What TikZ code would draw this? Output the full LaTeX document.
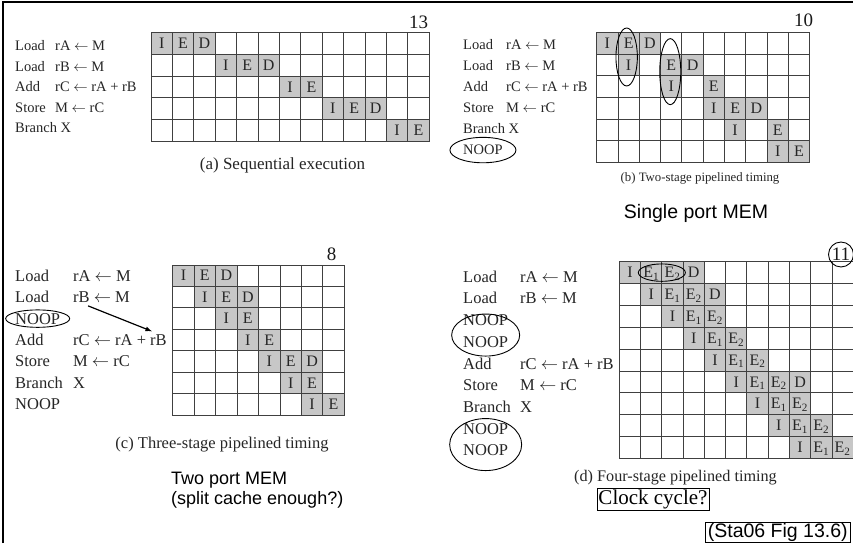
\documentclass[tikz,border=0pt]{standalone}
\usepackage{fontspec}
\setmainfont{Liberation Serif}
\newfontfamily\slidesans{Liberation Sans}
\usepackage{tikz}
\usetikzlibrary{positioning}
\usetikzlibrary{calc,arrows}
\tikzstyle{busy} = [fill=black!22]
\tikzstyle{rule} = [draw=black!75, line width=0.9pt, line cap=rect]
\tikzstyle{stage} = [inner sep=0pt, text height=10.5pt, text depth=0pt, text=black!85, font=\fontsize{16}{16}\selectfont]
\tikzstyle{opsm} = [anchor=base west, inner sep=0pt, text=black!85, font=\fontsize{14.5}{16}\selectfont]
\tikzstyle{oplg} = [anchor=base west, inner sep=0pt, text=black!85, font=\fontsize{16.5}{18}\selectfont]
\tikzstyle{total} = [inner sep=0pt, text=black!90, font=\fontsize{19}{19}\selectfont]
\tikzstyle{caption} = [inner sep=0pt, text=black!85]
\tikzstyle{ring} = [draw=black, line width=0.9pt]
\tikzstyle{slide} = [inner sep=0pt, font=\slidesans\fontsize{18}{20}\selectfont]

\begin{document}
\begin{tikzpicture}[x=1pt, y=-1pt]
    \useasboundingbox (0,0) rectangle (853,543);
    \fill[white] (0,0) rectangle (853,543);
    \draw[line width=1.2pt] (3,543) -- (3,2) -- (853,2);

    % (a) sequential execution
    \foreach \op/\arg [count=\r from 0] in {Load/rA $\leftarrow$ M, Load/rB $\leftarrow$ M, Add/rC $\leftarrow$ rA + rB, Store/M $\leftarrow$ rC, Branch X/{}} {
        \node[opsm] (a-op\r) at (15, {50.5+20.6*\r}) {\op};
        \node[opsm] (a-arg\r) at (55, {50.5+20.6*\r}) {\arg};
    }
    \begin{scope}[shift={(151pt,-32.7pt)}, x=21.4pt, y=-21.7pt]
        \foreach \c/\r/\s in {0/0/I, 1/0/E, 2/0/D, 3/1/I, 4/1/E, 5/1/D, 6/2/I, 7/2/E, 8/3/I, 9/3/E, 10/3/D, 11/4/I, 12/4/E} {
            \fill[busy] (\c,\r) rectangle ++(1,1);
            \node[stage] (a-\c-\r) at (\c+.5,\r+.5) {\s};
        }
        \foreach \c in {0,...,13} \draw[rule] (\c,0) -- (\c,5);
        \foreach \r in {0,...,5} \draw[rule] (0,\r) -- (13,\r);
    \end{scope}
    \node[total] (a-total) at (418.7,22.5) {13};
    \node[caption, font=\fontsize{17}{17}\selectfont] (a-cap) at (282.5,165) {(a) Sequential execution};

    % (b) two-stage
    \foreach \op/\arg [count=\r from 0] in {Load/rA $\leftarrow$ M, Load/rB $\leftarrow$ M, Add/rC $\leftarrow$ rA + rB, Store/M $\leftarrow$ rC, Branch X/{}, NOOP/{}} {
        \node[opsm] (b-op\r) at (463, {49.8+21*\r}) {\op};
        \node[opsm] (b-arg\r) at (506, {49.8+21*\r}) {\arg};
    }
    \begin{scope}[shift={(596.7pt,-32.3pt)}, x=21.3pt, y=-21.67pt]
        \foreach \c/\r/\s in {0/0/I, 1/0/E, 2/0/D, 1/1/I, 3/1/E, 4/1/D, 3/2/I, 5/2/E, 5/3/I, 6/3/E, 7/3/D, 6/4/I, 8/4/E, 8/5/I, 9/5/E} {
            \fill[busy] (\c,\r) rectangle ++(1,1);
            \node[stage] (b-\c-\r) at (\c+.5,\r+.5) {\s};
        }
        \foreach \c in {0,...,10} \draw[rule] (\c,0) -- (\c,6);
        \foreach \r in {0,...,6} \draw[rule] (0,\r) -- (10,\r);
    \end{scope}
    \draw[ring] ($(b-1-0)!.5!(b-1-1)+(-2,3)$) ellipse [x radius=10.7pt, y radius=29pt];
    \draw[ring] ($(b-3-1)!.5!(b-3-2)+(-1,-4)$) ellipse [x radius=10.5pt, y radius=33pt];
    \draw[ring] (b-op5) ellipse [x radius=33pt, y radius=12.7pt];
    \node[total] (b-total) at (803.5,20) {10};
    \node[caption, font=\fontsize{12.8}{13}\selectfont] (b-cap) at (700,178) {(b) Two-stage pipelined timing};
    \node[slide, font=\slidesans\fontsize{19.5}{20}\selectfont] (b-mem) at (696,213) {Single port MEM};

    % (c) three-stage
    \foreach \op/\arg [count=\r from 0] in {Load/rA $\leftarrow$ M, Load/rB $\leftarrow$ M, NOOP/{}, Add/rC $\leftarrow$ rA + rB, Store/M $\leftarrow$ rC, Branch/X, NOOP/{}} {
        \node[oplg] (c-op\r) at (15, {281.2+21.4*\r}) {\op};
        \node[oplg] (c-arg\r) at (73, {281.2+21.4*\r}) {\arg};
    }
    \begin{scope}[shift={(172.7pt,-265pt)}, x=21.45pt, y=-21.47pt]
        \foreach \c/\r/\s in {0/0/I, 1/0/E, 2/0/D, 1/1/I, 2/1/E, 3/1/D, 2/2/I, 3/2/E, 3/3/I, 4/3/E, 4/4/I, 5/4/E, 6/4/D, 5/5/I, 6/5/E, 6/6/I, 7/6/E} {
            \fill[busy] (\c,\r) rectangle ++(1,1);
            \node[stage] (c-\c-\r) at (\c+.5,\r+.5) {\s};
        }
        \foreach \c in {0,...,8} \draw[rule] (\c,0) -- (\c,7);
        \foreach \r in {0,...,7} \draw[rule] (0,\r) -- (8,\r);
    \end{scope}
    \draw[ring] (c-op2) ellipse [x radius=32pt, y radius=8.7pt];
    \draw[line width=1.2pt, -latex] ([xshift=15pt,yshift=-3pt]c-arg1.south west) -- ([xshift=-15pt,yshift=3pt]c-arg3.north east);
    \node[total] (c-total) at (331.5,254) {8};
    \node[caption, font=\fontsize{16.5}{17}\selectfont] (c-cap) at (222,445) {(c) Three-stage pipelined timing};
    \node[slide, anchor=north west, align=left] (c-mem) at (171,472) {Two port MEM\\(split cache enough?)};

    % (d) four-stage
    \foreach \op/\arg [count=\r from 0] in {Load/rA $\leftarrow$ M, Load/rB $\leftarrow$ M, NOOP/{}, NOOP/{}, Add/rC $\leftarrow$ rA + rB, Store/M $\leftarrow$ rC, Branch/X, NOOP/{}, NOOP/{}} {
        \node[oplg] (d-op\r) at (463, {282.2+21.7*\r}) {\op};
        \node[oplg] (d-arg\r) at (520, {282.2+21.7*\r}) {\arg};
    }
    \begin{scope}[shift={(619.3pt,-261.7pt)}, x=21.27pt, y=-21.85pt]
        \foreach \r [evaluate=\r as \ca using int(\r+1), evaluate=\r as \cb using int(\r+2)] in {0,...,8} {
            \fill[busy] (\r,\r) rectangle ++(3,1);
            \node[stage] (d-\r-\r) at (\r+.5,\r+.5) {I};
            \node[stage] (d-\ca-\r) at (\r+1.5,\r+.5) {E\textsubscript{1}};
            \node[stage] (d-\cb-\r) at (\r+2.5,\r+.5) {E\textsubscript{2}};
        }
        \foreach \c/\r in {3/0, 4/1, 8/5} {
            \fill[busy] (\c,\r) rectangle ++(1,1);
            \node[stage] (d-\c-\r) at (\c+.5,\r+.5) {D};
        }
        \foreach \c in {0,...,11} \draw[rule] (\c,0) -- (\c,9);
        \foreach \r in {0,...,9} \draw[rule] (0,\r) -- (11,\r);
    \end{scope}
    \draw[ring] ($(d-1-0)!.5!(d-2-0)$) ellipse [x radius=23.5pt, y radius=8.7pt];
    \draw[ring] ($(d-op2)!.5!(d-op3)+(0,4)$) ellipse [x radius=34pt, y radius=21pt];
    \draw[ring] ($(d-op7)!.5!(d-op8)+(0,5)$) ellipse [x radius=36pt, y radius=26pt];
    \node[total, draw, circle, inner sep=1pt, line width=0.9pt] (d-total) at (841,254.5) {11};
    \node[caption, font=\fontsize{16.2}{17}\selectfont] (d-cap) at (675.5,478) {(d) Four-stage pipelined timing};
    \node[draw, line width=0.6pt, inner sep=1.5pt, font=\fontsize{21}{21}\selectfont] (d-clock) at (653,499.5) {Clock cycle?};
    \node[slide, draw, line width=0.6pt, inner xsep=3pt, inner ysep=1pt, font=\slidesans\fontsize{19.5}{20}\selectfont, anchor=north east] (src) at (851,522) {(Sta06 Fig 13.6)};
\end{tikzpicture}
\end{document}
